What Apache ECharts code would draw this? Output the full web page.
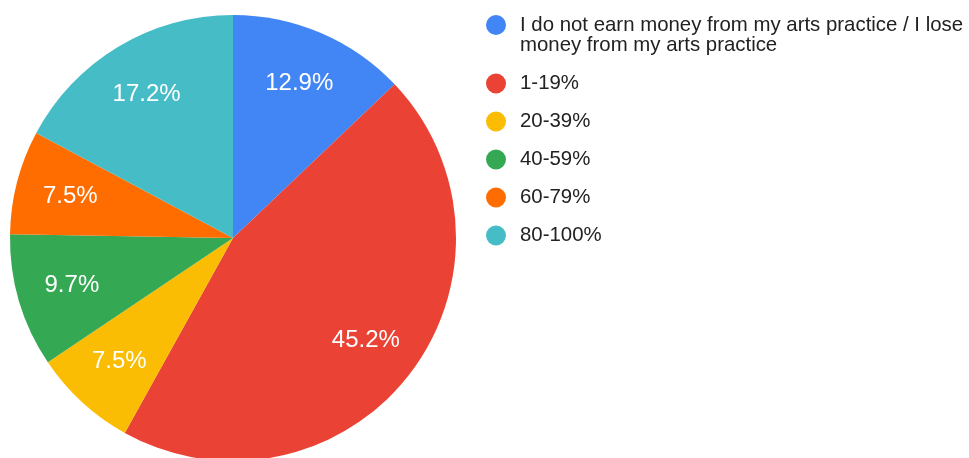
<!DOCTYPE html>
<html>
<head>
<meta charset="utf-8">
<script src="https://cdn.jsdelivr.net/npm/echarts@6/dist/echarts.min.js"></script>
<style>
  html, body { margin: 0; padding: 0; background: #fff; }
  #chart { width: 969px; height: 458px; }
</style>
</head>
<body>
<div id="chart"></div>
<script>
// Share of income earned from arts practice (respondent counts)
const categories = [
  'I do not earn money from my arts practice / I lose money from my arts practice',
  '1-19%',
  '20-39%',
  '40-59%',
  '60-79%',
  '80-100%'
];
const counts = [12, 42, 7, 9, 7, 16];
const colors = ['#4285f4', '#ea4335', '#fbbc04', '#34a853', '#ff6d01', '#46bdc6'];

const total = counts.reduce((a, b) => a + b, 0);
const pieData = categories.map((name, i) => ({ name, value: counts[i] }));

// Legend label: long first entry is wrapped onto two lines, with a spacer
// line above so the marker lines up with the first line of text.
function legendText(name) {
  if (name === categories[0]) {
    return '{s| }\n{a|I do not earn money from my arts practice / I lose}\n{b|money from my arts practice}';
  }
  return '{a|' + name + '}';
}

const FONT = 'Liberation Sans, Arial, sans-serif';

const chart = echarts.init(document.getElementById('chart'), null, { renderer: 'canvas' });
chart.setOption({
  animation: false,
  color: colors,
  legend: {
    orient: 'vertical',
    left: 486,
    top: -5,
    padding: 0,
    itemGap: 18,
    itemWidth: 20,
    itemHeight: 20,
    icon: 'circle',
    formatter: legendText,
    textStyle: {
      fontFamily: FONT,
      fontSize: 20.4,
      color: '#222222',
      lineHeight: 20,
      rich: {
        a: { fontFamily: FONT, fontSize: 20.4, lineHeight: 20, color: '#222222', padding: [0, 0, 0, 9] },
        b: { fontFamily: FONT, fontSize: 20.4, lineHeight: 20, color: '#222222', padding: [1, 0, 0, 9] },
        s: { fontSize: 20, lineHeight: 20 }
      }
    },
    data: categories
  },
  series: [
    {
      // filled slices
      type: 'pie',
      center: [233, 238],
      radius: [0, 223],
      startAngle: 90,
      clockwise: true,
      silent: true,
      label: { show: false },
      labelLine: { show: false },
      itemStyle: { borderWidth: 0 },
      data: pieData
    },
    {
      // transparent ring carrying the percentage labels
      type: 'pie',
      center: [233, 238],
      radius: [107, 223],
      startAngle: 90,
      clockwise: true,
      silent: true,
      legendHoverLink: false,
      itemStyle: { color: 'rgba(0,0,0,0)', borderWidth: 0 },
      label: {
        show: true,
        position: 'inside',
        color: '#ffffff',
        fontFamily: FONT,
        fontSize: 24,
        formatter: p => (p.value / total * 100).toFixed(1) + '%'
      },
      labelLine: { show: false },
      data: pieData
    }
  ]
});
</script>
</body>
</html>
